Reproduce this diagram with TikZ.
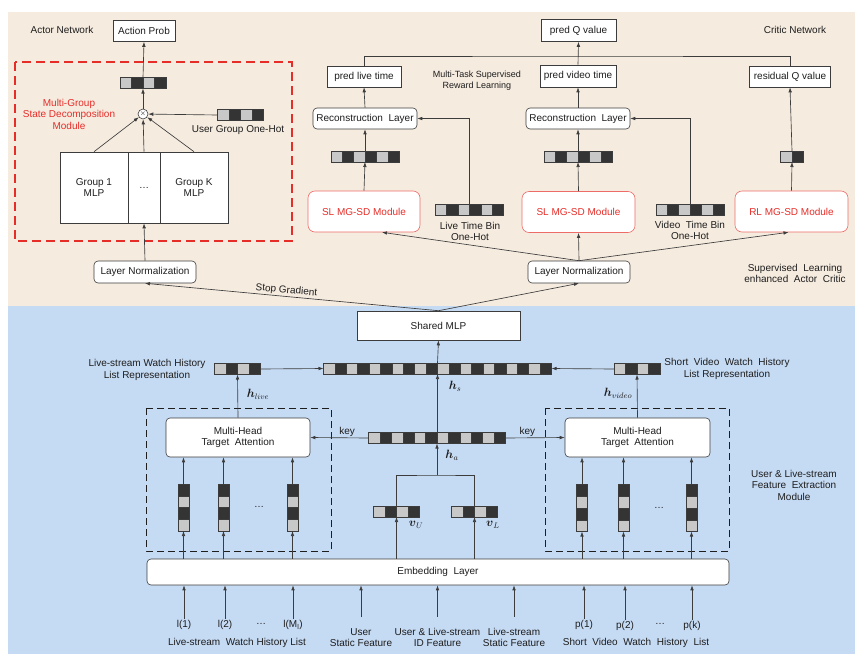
\documentclass[tikz,border=0pt]{standalone}
\usepackage{amsmath,amssymb}
\usepackage{fontspec}
\setmainfont{Liberation Sans}
\usepackage{xcolor}
\usepackage{tikz}
\usetikzlibrary{arrows.meta,calc}

\definecolor{bgtop}{RGB}{245,235,223}
\definecolor{bgbot}{RGB}{197,218,243}
\definecolor{mgred}{RGB}{230,45,40}
\definecolor{cellL}{RGB}{200,200,200}
\definecolor{cellD}{RGB}{52,52,52}
\definecolor{linec}{RGB}{60,60,60}
\definecolor{txt}{RGB}{30,30,30}

% row of cells: name, x, y, number of cells, 0 = light cell first
\newcommand{\hcells}[5]{%
  \foreach \i in {1,...,#4}{
    \pgfmathsetmacro{\xl}{#2-#4*5.7+(\i-1)*11.4}
    \pgfmathtruncatemacro{\cellno}{\i+#5}
    \ifodd\cellno\relax \def\cellcol{cellL}\else\def\cellcol{cellD}\fi
    \draw[cellbox, fill=\cellcol] (\xl,#3-5.5) rectangle ++(11.4,11);
  }
  \node[vecnode, minimum width=#4*11.4pt, minimum height=11pt] (#1) at (#2,#3) {};
}
% column of cells: name, x, y, number of cells (dark cell on top)
\newcommand{\vcells}[4]{%
  \foreach \i in {1,...,#4}{
    \pgfmathsetmacro{\yt}{#3-#4*5.875+(\i-1)*11.75}
    \ifodd\i\relax \def\cellcol{cellD}\else\def\cellcol{cellL}\fi
    \draw[cellbox, fill=\cellcol] (#2-5.5,\yt) rectangle ++(11,11.75);
  }
  \node[vecnode, minimum width=11pt, minimum height=#4*11.75pt] (#1) at (#2,#3) {};
}

\begin{document}
\begin{tikzpicture}[x=1pt, y=-1pt,
    >={Latex[length=5pt,width=3.6pt]},
    lbl/.style={align=center, text=txt, inner sep=1pt, font=\fontsize{10}{11.5}\selectfont},
    mathlbl/.style={text=txt, inner sep=1pt, font=\fontsize{12}{12}\selectfont},
    plainbox/.style={draw=linec, line width=0.6pt, fill=white, align=center, text=txt,
      inner sep=0pt, font=\fontsize{10}{11.5}\selectfont},
    roundbox/.style={plainbox, rounded corners=4pt},
    sdbox/.style={plainbox, draw=mgred!70, text=mgred, rounded corners=7pt},
    cellbox/.style={draw=linec, line width=0.5pt},
    vecnode/.style={inner sep=0pt, outer sep=0pt},
    arr/.style={->, draw=linec, line width=0.65pt},
    wire/.style={draw=linec, line width=0.65pt},
    frame/.style={draw=txt, line width=1pt, dash pattern=on 7pt off 4pt},
    redframe/.style={draw=mgred, line width=1.3pt, dash pattern=on 9pt off 5pt}]
  \useasboundingbox (0,0) rectangle (864,664);

  % Backgrounds
  \fill[bgtop] (8,12) rectangle (855,306);
  \fill[bgbot] (8,306) rectangle (855,654);

  % Actor network
  \node[lbl] (actor) at (62,30) {Actor Network};
  \node[plainbox, minimum width=62pt, minimum height=21pt] (actprob) at (144,31) {Action Prob};
  \draw[redframe] (15,62) rectangle (292,241);
  \node[lbl, text=mgred] (mgsd) at (69,114) {Multi-Group\\State Decomposition\\Module};
  \hcells{actvec}{143}{83}{4}{0}
  \node[draw=linec, line width=0.6pt, fill=white, circle, inner sep=0pt, minimum size=10pt] (mul) at (143,114) {\fontsize{7}{7}\selectfont$\times$};
  \hcells{ugvec}{240.5}{115}{4}{0}
  \node[lbl] (uglbl) at (238,130) {User Group One-Hot};
  \node[plainbox, minimum width=68pt, minimum height=71pt] (g1) at (94,187.5) {Group 1\\MLP};
  \node[plainbox, minimum width=32pt, minimum height=71pt] (gd) at (144,187.5) {\ldots};
  \node[plainbox, minimum width=68pt, minimum height=71pt] (gk) at (194,187.5) {Group K\\MLP};
  \node[roundbox, minimum width=102pt, minimum height=22pt] (lnl) at (145,272) {Layer Normalization};

  \draw[arr] (g1.north) -- (mul);
  \draw[arr] (gd.north) -- (mul);
  \draw[arr] (gk.north) -- (mul);
  \draw[arr] (ugvec.west) -- (mul);
  \draw[arr] (mul) -- (actvec.south);
  \draw[arr] (actvec.north) -- (actprob.south);
  \draw[arr] (lnl.north) -- (gd.south);

  % Critic network
  \node[lbl] (critic) at (795,30) {Critic Network};
  \node[plainbox, minimum width=75pt, minimum height=22pt] (predq) at (578.5,30.5) {pred Q value};
  \node[plainbox, minimum width=74pt, minimum height=21pt] (plt) at (364,76.5) {pred live time};
  \node[plainbox, minimum width=76pt, minimum height=22pt] (pvt) at (578,76) {pred video time};
  \node[plainbox, minimum width=81pt, minimum height=21pt] (res) at (790,76.5) {residual Q value};
  \node[lbl, font=\fontsize{9}{11}\selectfont] (mtl) at (477,80.5) {Multi-Task Supervised\\Reward Learning};
  \node[roundbox, minimum width=104pt, minimum height=21pt] (recl) at (365,118.5) {Reconstruction\ \ Layer};
  \node[roundbox, minimum width=104pt, minimum height=21pt] (recr) at (578,118.5) {Reconstruction\ \ Layer};
  \hcells{lvec}{365}{156.5}{6}{0}
  \hcells{rvec}{578}{156.5}{6}{0}
  \hcells{qvec}{792}{156.5}{2}{0}
  \node[sdbox, minimum width=112pt, minimum height=41pt] (sll) at (364,211.5) {SL MG-SD Module};
  \node[sdbox, minimum width=113pt, minimum height=41pt] (slr) at (578.5,212) {SL MG-SD Module};
  \node[sdbox, minimum width=113pt, minimum height=41pt] (rl) at (791.5,211.5) {RL MG-SD Module};
  \hcells{ltbin}{469.5}{210}{6}{0}
  \node[lbl] (ltlbl) at (470,231.5) {Live Time Bin\\One-Hot};
  \hcells{vtbin}{690}{210}{6}{0}
  \node[lbl] (vtlbl) at (690,230.5) {Video\ \ Time Bin\\One-Hot};
  \node[roundbox, minimum width=102pt, minimum height=22pt] (lnr) at (579,272) {Layer Normalization};
  \node[lbl] (slac) at (795,273.5) {Supervised\ \ Learning\\enhanced\ \ Actor\ \ Critic};

  \coordinate (qbus) at (578,56);
  \draw[wire] (plt.north) |- (qbus) -| (res.north);
  \draw[arr] (pvt.north) -- (predq.south);
  \draw[arr] (recl.north) -- (plt.south);
  \draw[arr] (recr.north) -- (pvt.south);
  \draw[arr] (lvec.north) -- (recl.south);
  \draw[arr] (rvec.north) -- (recr.south);
  \draw[arr] (sll.north) -- (lvec.south);
  \draw[arr] (slr.north) -- (rvec.south);
  \draw[arr] (rl.north) -- (qvec.south);
  \draw[arr] (qvec.north) -- (res.south);
  \draw[arr] (ltbin.north) |- (recl.east);
  \draw[arr] (vtbin.north) |- (recr.east);
  \draw[arr] (lnr.north) -- (slr.south);
  \draw[arr] (lnr.north) -- ([xshift=18pt]sll.south);
  \draw[arr] (lnr.north) -- ([xshift=-3pt]rl.south);

  % Shared MLP and state representation
  \node[plainbox, minimum width=163pt, minimum height=29pt] (shared) at (438.5,325.5) {Shared MLP};
  \draw[arr] (shared.north) -- node[lbl, sloped, above, pos=0.52] {Stop Gradient} (lnl.south);
  \draw[arr] (shared.north) -- (lnr.south);
  \hcells{hs}{437.5}{368.5}{20}{0}
  \hcells{hlive}{237.5}{369}{4}{0}
  \hcells{hvideo}{637}{369}{4}{0}
  \node[lbl] (lswlbl) at (147,370) {Live-stream Watch History\\List Representation};
  \node[lbl] (svwlbl) at (727,369) {Short\ \ Video\ \ Watch\ \ History\\List Representation};
  \node[mathlbl] (hslbl) at (455,386) {$\boldsymbol{h}_s$};
  \node[mathlbl] (hlivelbl) at (258,394) {$\boldsymbol{h}_{live}$};
  \node[mathlbl] (hvideolbl) at (618,393) {$\boldsymbol{h}_{video}$};
  \draw[arr] (hs.north) -- (shared.south);
  \draw[arr] (hlive.east) -- (hs.west);
  \draw[arr] (hvideo.west) -- (hs.east);

  % Feature extraction module
  \draw[frame] (146,408) rectangle (331,551);
  \draw[frame] (545,408) rectangle (729,551);
  \node[roundbox, minimum width=144pt, minimum height=39pt] (mhtal) at (238,437.5) {Multi-Head\\Target\ \ Attention};
  \node[roundbox, minimum width=145pt, minimum height=39pt] (mhtar) at (637.5,437.5) {Multi-Head\\Target\ \ Attention};
  \hcells{ha}{437}{438}{12}{0}
  \node[mathlbl] (halbl) at (452,455) {$\boldsymbol{h}_a$};
  \hcells{vu}{396.5}{511.5}{4}{0}
  \hcells{vl}{474.5}{511.5}{4}{0}
  \node[mathlbl] (vulbl) at (416,525) {$\boldsymbol{v}_U$};
  \node[mathlbl] (vllbl) at (493,525) {$\boldsymbol{v}_L$};
  \vcells{c1}{183.5}{507.5}{4}
  \vcells{c2}{223.5}{507.5}{4}
  \vcells{c3}{292.5}{507.5}{4}
  \node[lbl] (cdots) at (259,507) {\ldots};
  \vcells{d1}{582}{508}{4}
  \vcells{d2}{623.5}{508}{4}
  \vcells{d3}{691.5}{508}{4}
  \node[lbl] (ddots) at (659,508) {\ldots};
  \node[roundbox, minimum width=582pt, minimum height=26pt] (emb) at (438,572) {Embedding\ \ Layer};
  \node[lbl] (felbl) at (794,485) {User \& Live-stream\\Feature\ \ Extraction\\Module};

  \draw[arr] (mhtal.north) -- (hlive.south);
  \draw[arr] (mhtar.north) -- (hvideo.south);
  \draw[arr] (ha.west) -- node[lbl, above, pos=0.37] {key} (mhtal.east);
  \draw[arr] (ha.east) -- node[lbl, above, pos=0.37] {key} (mhtar.west);
  \coordinate (hajoin) at (437,475);
  \draw[wire] (vu.north) |- (hajoin) -| (vl.north);
  \draw[arr] (hajoin) -- (ha.south);
  \draw[arr] (hs.south |- ha.north) -- (hs.south);
  \draw[arr] (emb.north -| vu.south) -- (vu.south);
  \draw[arr] (emb.north -| vl.south) -- (vl.south);
  \foreach \c/\m in {c1/mhtal, c2/mhtal, c3/mhtal, d1/mhtar, d2/mhtar, d3/mhtar}{
    \draw[arr] (emb.north -| \c.south) -- (\c.south);
    \draw[arr] (\c.north) -- (\c.north |- \m.south);
  }

  % Input features
  \node[lbl] (l1) at (184,625) {l(1)};
  \node[lbl] (l2) at (225,625) {l(2)};
  \node[lbl] (ldots) at (261,624) {\ldots};
  \node[lbl] (lm) at (293,625) {l(M\textsubscript{l})};
  \node[lbl] (lwh) at (237,643) {Live-stream\ \ Watch History List};
  \node[lbl] (usf) at (361,637.5) {User\\Static Feature};
  \node[lbl] (idf) at (437.5,637.5) {User \& Live-stream\\ID Feature};
  \node[lbl] (lsf) at (514,637.5) {Live-stream\\Static Feature};
  \node[lbl] (p1) at (584,625) {p(1)};
  \node[lbl] (p2) at (625,626) {p(2)};
  \node[lbl] (pdots) at (660,624) {\ldots};
  \node[lbl] (pk) at (692,626) {p(k)};
  \node[lbl] (svl) at (636,643) {Short\ \ Video\ \ Watch\ \ History\ \ List};

  \foreach \n in {l1, l2, lm, p1, p2, pk}{
    \draw[arr] (\n.north) -- (\n.north |- emb.south);
  }
  \foreach \n in {usf, idf, lsf}{
    \draw[arr] ([yshift=10pt]\n.north) -- (\n.north |- emb.south);
  }
\end{tikzpicture}
\end{document}
